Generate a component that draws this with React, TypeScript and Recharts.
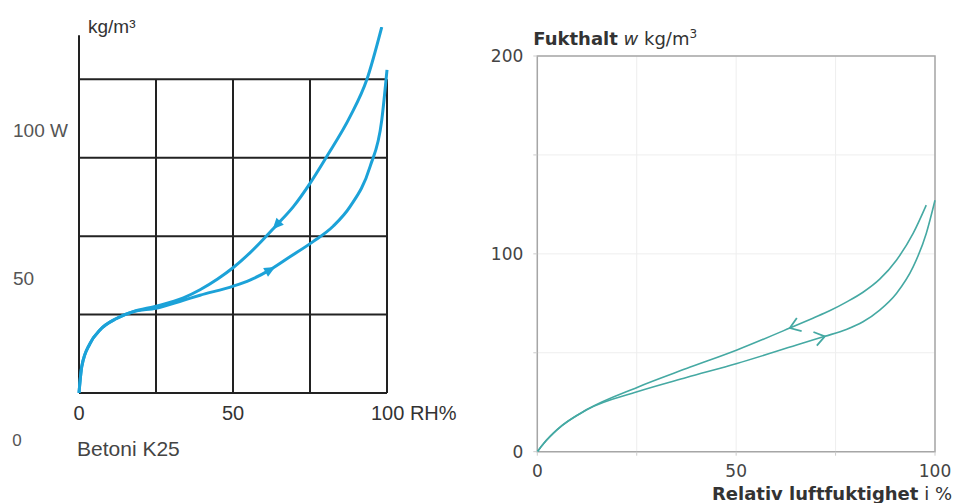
import React from "react";
import {
  LineChart,
  Line,
  XAxis,
  YAxis,
  ReferenceLine,
  ReferenceArea,
  CartesianGrid,
} from "recharts";

// left chart (Betoni K25), RH % and moisture kg/m3
const leftRhDesorption = [0, 0.9, 3.6, 6.8, 12.2, 17.6, 25, 33.9, 39.3, 45, 50.1, 55.5, 64.2, 69.6, 75, 80.4, 88, 93.4, 98.3];
const leftWDesorption = [0, 10.1, 19, 24.1, 28.5, 31.1, 33.2, 36.4, 39.5, 43.6, 48, 53.6, 64.3, 71.3, 80.2, 90.4, 105.7, 119.7, 140];
const leftRhAdsorption = [0, 0.9, 3.6, 6.8, 12.2, 17.6, 25, 33.9, 39.3, 50.1, 55.5, 62, 68.5, 76.1, 82.6, 88, 94.5, 98.3, 100];
const leftWAdsorption = [0, 10.1, 19, 24.1, 28.5, 31.1, 32.4, 35.5, 37.4, 40.9, 43.2, 47.1, 52.1, 58, 63.9, 71.3, 86.6, 104.4, 123.6];
const leftDesorptionArrowAt = 64.2;
const leftAdsorptionArrowAt = 62;
const leftGridX = [0, 25, 50, 75, 100];
const leftGridY = [0, 30, 60, 90, 120];
const leftXTicks = [0, 50, 100];
const leftYLabels = [50, 100];

// right chart, RH % and Fukthalt kg/m3
const rightRhDesorption = [0, 1.6, 5, 12.5, 25.1, 37.5, 50.2, 63.5, 69.3, 73.5, 77.7, 81.9, 86.1, 90.3, 94.5, 97.8];
const rightWDesorption = [0, 4.2, 11.2, 21.3, 32.5, 42, 51.4, 62.5, 67.5, 71.2, 75.6, 80.6, 87.2, 96.8, 110.3, 124.6];
const rightRhAdsorption = [0, 1.6, 5, 12.5, 25.1, 37.5, 50.2, 65.2, 72.3, 77.7, 81.9, 86.1, 90.3, 94.5, 97.8, 100];
const rightWAdsorption = [0, 4.2, 11.2, 21.3, 30.3, 37.5, 44.6, 53.9, 58.3, 61.8, 65.7, 71.6, 80, 93.4, 110.3, 127.1];
const rightDesorptionArrowAt = 63.5;
const rightAdsorptionArrowAt = 72.3;
const rightXTicks = [0, 25, 50, 75, 100];
const rightYTicks = [0, 50, 100, 150, 200];
const rightXLabels = [0, 50, 100];
const rightYLabels = [0, 100, 200];

const toRows = (rh: number[], w: number[]) => rh.map((x, i) => ({ rh: x, w: w[i] }));

const LEFT_FONT = "'Liberation Sans', Arial, sans-serif";
const RIGHT_FONT = "'DejaVu Sans', Verdana, sans-serif";
const LEFT_BLUE = "#1ca2d8";
const RIGHT_TEAL = "#45a9a3";

// filled triangle arrow (left chart)
const solidArrow = (arrowAt: number, angle: number) => (p: any) => {
  if (p.payload?.rh !== arrowAt) return <g key={`d-${p.index}`} />;
  return (
    <polygon
      key={`d-${p.index}`}
      points="6,0 -5,-5 -5,5"
      fill={LEFT_BLUE}
      transform={`translate(${p.cx},${p.cy}) rotate(${angle})`}
    />
  );
};

// open chevron arrow (right chart)
const openArrow = (arrowAt: number, angle: number) => (p: any) => {
  if (p.payload?.rh !== arrowAt) return <g key={`d-${p.index}`} />;
  return (
    <path
      key={`d-${p.index}`}
      d="M -10,-7 L 0,0 L -10,7"
      fill="none"
      stroke={RIGHT_TEAL}
      strokeWidth={1.8}
      transform={`translate(${p.cx},${p.cy}) rotate(${angle})`}
    />
  );
};

const LeftXTick = ({ x, y, payload }: any) => {
  const v = payload.value;
  const last = v === 100;
  return (
    <text
      x={last ? x - 16 : x}
      y={y}
      dy={19}
      textAnchor={last ? "start" : "middle"}
      fontFamily={LEFT_FONT}
      fontSize={20}
      fill="#333"
    >
      {last ? `${v} RH%` : v}
    </text>
  );
};

const LeftYTick = ({ x, y, payload }: any) => (
  <text x={x - 58} y={y} dy="0.35em" textAnchor="start" fontFamily={LEFT_FONT} fontSize={19} fill="#555">
    {payload.value === 100 ? "100 W" : payload.value}
  </text>
);

const LeftBottomLabel = ({ viewBox }: any) => (
  <g fontFamily={LEFT_FONT} fill="#444">
    <text x={viewBox.x - 2} y={viewBox.y + 63} fontSize={21}>
      Betoni K25
    </text>
    <text x={viewBox.x - 62} y={viewBox.y + 53} fontSize={17} textAnchor="middle" fill="#555">
      0
    </text>
  </g>
);

const LeftUnitLabel = ({ viewBox }: any) => (
  <text x={viewBox.x + viewBox.width + 9} y={viewBox.y + 6} fontFamily={LEFT_FONT} fontSize={19} fill="#333">
    kg/m³
  </text>
);

const RightXTick = ({ x, y, payload }: any) => (
  <text x={x} y={y} dy={17} textAnchor="middle" fontFamily={RIGHT_FONT} fontSize={17} fill="#444">
    {rightXLabels.includes(payload.value) ? payload.value : ""}
  </text>
);

const RightYTick = ({ x, y, payload }: any) => (
  <text x={x} y={y} dy="0.35em" textAnchor="end" fontFamily={RIGHT_FONT} fontSize={17} fill="#444">
    {rightYLabels.includes(payload.value) ? payload.value : ""}
  </text>
);

const RightTitle = ({ viewBox }: any) => (
  <text x={viewBox.x + viewBox.width - 4} y={viewBox.y - 11} fontFamily={RIGHT_FONT} fontSize={18} fill="#333">
    <tspan fontWeight="bold">Fukthalt</tspan>
    <tspan> </tspan>
    <tspan fontStyle="italic">w</tspan>
    <tspan> kg/m</tspan>
    <tspan dy={-7} fontSize={12}>3</tspan>
  </text>
);

const RightXLabel = ({ viewBox }: any) => (
  <text x={viewBox.x + viewBox.width + 17} y={viewBox.y + 48} textAnchor="end" fontFamily={RIGHT_FONT} fontSize={18} fill="#333">
    <tspan fontWeight="bold">Relativ luftfuktighet</tspan>
    <tspan> i %</tspan>
  </text>
);

const LeftChart = () => (
  <LineChart width={480} height={503} margin={{ top: 27, right: 93, bottom: 70, left: 0 }}>
    <XAxis
      type="number"
      dataKey="rh"
      domain={[0, 100]}
      ticks={leftXTicks}
      interval={0}
      axisLine={false}
      tickLine={false}
      height={40}
      tick={<LeftXTick />}
      label={LeftBottomLabel}
    />
    <YAxis yAxisId="v" hide type="number" domain={[0, 140]} allowDataOverflow />
    <YAxis
      yAxisId="lbl"
      type="number"
      domain={[11, 135.1]}
      allowDataOverflow
      ticks={leftYLabels}
      interval={0}
      width={79}
      axisLine={false}
      tickLine={false}
      tick={<LeftYTick />}
      label={LeftUnitLabel}
    />
    {leftGridY.map((g) => (
      <ReferenceLine
        key={`h-${g}`}
        yAxisId="v"
        segment={[{ x: 0, y: g }, { x: 100, y: g }]}
        stroke="#222"
        strokeWidth={2}
      />
    ))}
    {leftGridX.map((g) => (
      <ReferenceLine
        key={`v-${g}`}
        yAxisId="v"
        segment={[{ x: g, y: 0 }, { x: g, y: 120 }]}
        stroke="#222"
        strokeWidth={2}
      />
    ))}
    <ReferenceLine yAxisId="v" segment={[{ x: 0, y: 0 }, { x: 0, y: 136.8 }]} stroke="#222" strokeWidth={2} />
    <Line
      yAxisId="v"
      data={toRows(leftRhAdsorption, leftWAdsorption)}
      dataKey="w"
      type="monotone"
      stroke={LEFT_BLUE}
      strokeWidth={3}
      dot={solidArrow(leftAdsorptionArrowAt, -29)}
      activeDot={false}
      isAnimationActive={false}
    />
    <Line
      yAxisId="v"
      data={toRows(leftRhDesorption, leftWDesorption)}
      dataKey="w"
      type="monotone"
      stroke={LEFT_BLUE}
      strokeWidth={3}
      dot={solidArrow(leftDesorptionArrowAt, 133)}
      activeDot={false}
      isAnimationActive={false}
    />
  </LineChart>
);

const RightChart = () => (
  <LineChart width={477} height={503} margin={{ top: 56, right: 22, bottom: 0, left: 0 }}>
    <CartesianGrid stroke="#eeeeee" />
    <XAxis
      type="number"
      dataKey="rh"
      domain={[0, 100]}
      ticks={rightXTicks}
      interval={0}
      axisLine={false}
      tickLine={{ stroke: "#cccccc" }}
      tickSize={4}
      tickMargin={4}
      height={51.3}
      tick={<RightXTick />}
      label={RightXLabel}
    />
    <YAxis
      type="number"
      domain={[0, 200]}
      ticks={rightYTicks}
      interval={0}
      width={57.3}
      axisLine={false}
      tickLine={{ stroke: "#cccccc" }}
      tickSize={4}
      tickMargin={10}
      tick={<RightYTick />}
      label={RightTitle}
    />
    <ReferenceArea x1={0} x2={100} y1={0} y2={200} fill="none" stroke="#a6a6a6" strokeWidth={1.5} />
    <Line
      data={toRows(rightRhDesorption, rightWDesorption)}
      dataKey="w"
      type="monotone"
      stroke={RIGHT_TEAL}
      strokeWidth={1.6}
      dot={openArrow(rightDesorptionArrowAt, 160)}
      activeDot={false}
      isAnimationActive={false}
    />
    <Line
      data={toRows(rightRhAdsorption, rightWAdsorption)}
      dataKey="w"
      type="monotone"
      stroke={RIGHT_TEAL}
      strokeWidth={1.6}
      dot={openArrow(rightAdsorptionArrowAt, -14)}
      activeDot={false}
      isAnimationActive={false}
    />
  </LineChart>
);

export default function App() {
  return (
    <div style={{ position: "absolute", left: 0, top: 0, width: 957, height: 503, background: "#fff", overflow: "hidden" }}>
      <div style={{ position: "absolute", left: 0, top: 0 }}>
        <LeftChart />
      </div>
      <div style={{ position: "absolute", left: 480, top: 0 }}>
        <RightChart />
      </div>
    </div>
  );
}
